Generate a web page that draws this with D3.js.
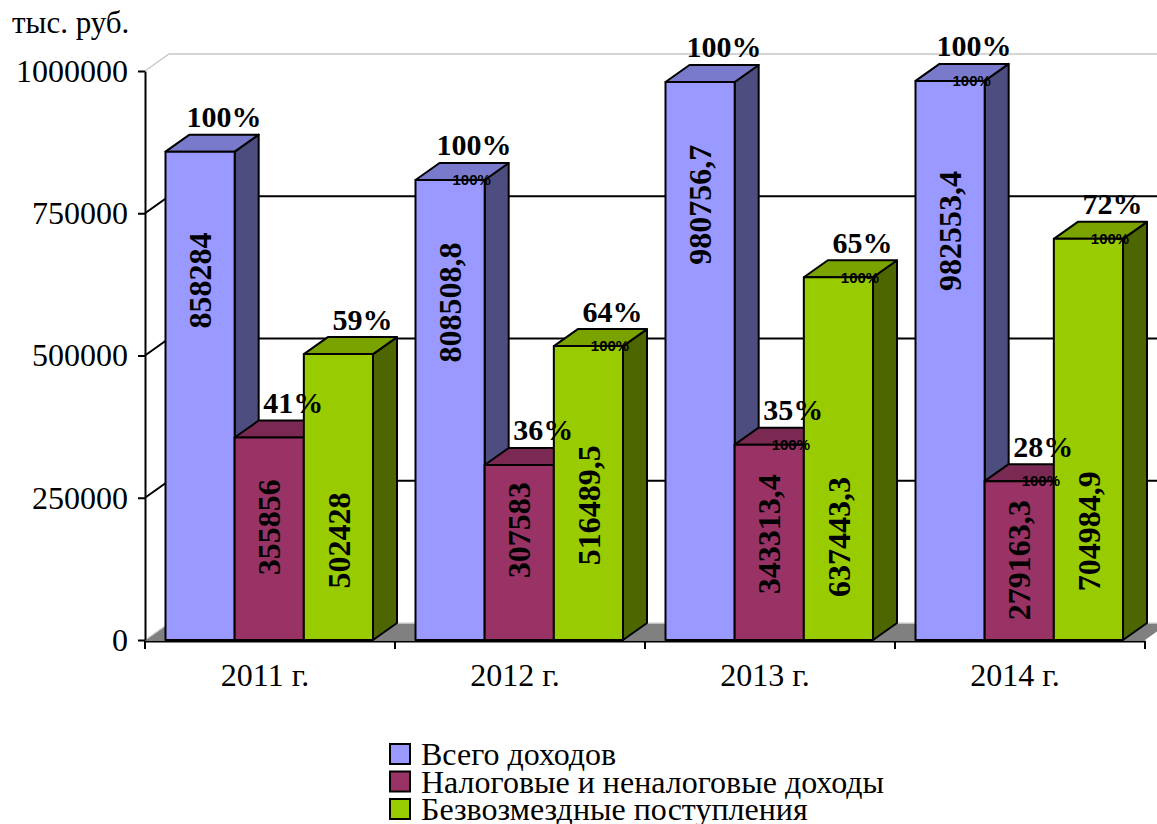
<!doctype html>
<html>
<head>
  <meta charset="utf8"/>
  <style>
    body { margin: 0; background: #fff; }
    text { font-family: "Liberation Serif", "Times New Roman", Tinos, Times, "DejaVu Serif", serif; fill: #000; }
  </style>
</head>
<body>
  <svg width="1157" height="824"></svg>
  <script src="https://d3js.org/d3.v7.min.js"></script>
  <script>
    // data
    var years = ['2011 г.', '2012 г.', '2013 г.', '2014 г.'];
    var seriesNames = ['Всего доходов', 'Налоговые и неналоговые доходы', 'Безвозмездные поступления'];
    var totalIncome = [858284, 808508.8, 980756.7, 982553.4];
    var taxIncome = [355856, 307583, 343313.4, 279163.3];
    var grants = [502428, 516489.5, 637443.3, 704984.9];
    var totalPct = ['100%', '100%', '100%', '100%'];
    var taxPct = ['41%', '36%', '35%', '28%'];
    var grantsPct = ['59%', '64%', '65%', '72%'];
    // stray small "100%" labels present on some bars
    var totalTag = [false, true, false, true];
    var taxTag = [false, false, true, true];
    var grantsTag = [false, true, true, true];
    // where the rotated value labels sit (in axis units)
    var totalLabelAt = [632000, 593000, 765000, 719000];
    var taxLabelAt = [198000, 193000, 186000, 140000];
    var grantsLabelAt = [175000, 237000, 181000, 191000];
    var yTicks = [0, 250000, 500000, 750000, 1000000];

    var SERIF = '"Liberation Serif", "Times New Roman", Tinos, Times, "DejaVu Serif", serif';
    var colors = ['#9999FF', '#993366', '#99CC00'];
    var tops = ['#7a7acc', '#7a2952', '#7aa300'];
    var sides = ['#4d4d80', '#4d1a33', '#4d6600'];

    var series = [
      {values: totalIncome, pct: totalPct, tag: totalTag, at: totalLabelAt},
      {values: taxIncome, pct: taxPct, tag: taxTag, at: taxLabelAt},
      {values: grants, pct: grantsPct, tag: grantsTag, at: grantsLabelAt}
    ];

    var svg = d3.select('svg');
    var DX = 24, DY = -17;

    var y = d3.scaleLinear().domain([0, 1000000]).range([640, 71]);
    var x0 = d3.scaleBand().domain(years).range([145, 1145]);
    var x1 = d3.scaleBand().domain([0, 1, 2]).range([20.5, 228]);

    var fmt = function(v) { return String(v).replace('.', ','); };

    // floor
    svg.append('path')
       .attr('d', 'M145,640 L1145,640 L' + (1145 + DX) + ',' + (640 + DY) +
                  ' L' + (145 + DX) + ',' + (640 + DY) + 'Z')
       .attr('fill', '#808080');
    svg.append('line')
       .attr('x1', 145).attr('y1', 640).attr('x2', 145 + DX).attr('y2', 640 + DY)
       .attr('stroke', '#d8d8d8').attr('stroke-width', 1.5);
    svg.append('line')
       .attr('x1', 145 + DX).attr('y1', 640 + DY).attr('x2', 1157).attr('y2', 640 + DY)
       .attr('stroke', '#d8d8d8').attr('stroke-width', 1.5);

    // gridlines on left and back walls
    var grid = svg.append('g');
    yTicks.filter(function(t) { return t > 0; }).forEach(function(t) {
      var c = t === 1000000 ? '#c8c8c8' : '#000';
      var sw = t === 1000000 ? 1.5 : 2;
      grid.append('path')
          .attr('d', 'M145,' + y(t) + ' L' + (145 + DX) + ',' + (y(t) + DY) +
                     ' L1157,' + (y(t) + DY))
          .attr('fill', 'none').attr('stroke', c).attr('stroke-width', sw);
    });

    // y axis
    var yAxis = svg.append('g')
       .attr('transform', 'translate(145,0)')
       .call(d3.axisLeft(y).tickValues(yTicks).tickFormat(d3.format('d'))
               .tickSize(7).tickSizeOuter(0).tickPadding(10));
    yAxis.attr('font-family', null).attr('font-size', null);
    yAxis.selectAll('path, line').attr('stroke', '#000').attr('stroke-width', 2);
    yAxis.selectAll('text').style('font-size', '32px').style('font-family', SERIF);

    // x axis
    var xAxis = svg.append('g')
       .attr('transform', 'translate(0,641)')
       .call(d3.axisBottom(x0).tickSize(0).tickPadding(22).tickSizeOuter(0));
    xAxis.attr('font-family', null).attr('font-size', null);
    xAxis.select('.domain').attr('stroke', '#000').attr('stroke-width', 2);
    xAxis.selectAll('text').style('font-size', '32px').style('font-family', SERIF)
         .attr('dx', -5);
    var bounds = years.map(function(d) { return x0(d); }).concat([x0.range()[1]]);
    svg.append('g').selectAll('line').data(bounds).join('line')
       .attr('x1', function(d) { return d; }).attr('x2', function(d) { return d; })
       .attr('y1', 641).attr('y2', 649)
       .attr('stroke', '#000').attr('stroke-width', 2);

    // bars, left to right
    var bars = svg.append('g')
       .attr('stroke', '#000').attr('stroke-width', 2).attr('stroke-linejoin', 'round');
    years.forEach(function(yr, i) {
      series.forEach(function(s, k) {
        var bx = x0(yr) + x1(k), w = x1.bandwidth();
        var top = y(s.values[i]), bottom = y(0);
        bars.append('path')
            .attr('d', 'M' + (bx + w) + ',' + top + ' L' + (bx + w + DX) + ',' + (top + DY) +
                       ' L' + (bx + w + DX) + ',' + (bottom + DY) + ' L' + (bx + w) + ',' + bottom + 'Z')
            .attr('fill', sides[k]);
        bars.append('path')
            .attr('d', 'M' + bx + ',' + top + ' L' + (bx + w) + ',' + top +
                       ' L' + (bx + w + DX) + ',' + (top + DY) + ' L' + (bx + DX) + ',' + (top + DY) + 'Z')
            .attr('fill', tops[k]);
        bars.append('rect')
            .attr('x', bx).attr('y', top).attr('width', w).attr('height', bottom - top)
            .attr('fill', colors[k]);
      });
    });

    // labels
    var labels = svg.append('g');
    years.forEach(function(yr, i) {
      series.forEach(function(s, k) {
        var bx = x0(yr) + x1(k), w = x1.bandwidth();
        var top = y(s.values[i]);
        var cx = bx + w / 2, cy = y(s.at[i]);
        labels.append('text')
              .attr('transform', 'translate(' + cx + ',' + cy + ') rotate(-90)')
              .attr('text-anchor', 'middle').attr('dy', '0.35em')
              .style('font-family', SERIF)
              .style('font-size', '32px').style('font-weight', 'bold')
              .text(fmt(s.values[i]));
        labels.append('text')
              .attr('x', cx + 24).attr('y', top - 35).attr('dy', '0.35em')
              .attr('text-anchor', 'middle')
              .style('font-family', SERIF)
              .style('font-size', '30px').style('font-weight', 'bold')
              .text(s.pct[i]);
        if (s.tag[i]) {
          labels.append('text')
                .attr('x', bx + w - 13).attr('y', top).attr('dy', '0.35em')
                .attr('text-anchor', 'middle')
                .style('font-family', '"Liberation Sans", Arial, sans-serif')
                .style('font-size', '15px').style('font-weight', 'bold')
                .text('100%');
        }
      });
    });

    // unit label
    svg.append('text').attr('x', 12).attr('y', 33)
       .style('font-family', SERIF)
       .style('font-size', '31px').text('тыс. руб.');

    // legend
    var legend = svg.append('g').attr('transform', 'translate(390,744)');
    var item = legend.selectAll('g').data(seriesNames).join('g')
       .attr('transform', function(d, i) { return 'translate(0,' + (i * 27.5) + ')'; });
    item.append('rect')
        .attr('x', 0).attr('y', 0).attr('width', 20).attr('height', 20)
        .attr('fill', function(d, i) { return colors[i]; })
        .attr('stroke', '#000').attr('stroke-width', 2);
    item.append('text')
        .attr('x', 31).attr('y', 21)
        .style('font-family', SERIF)
        .style('font-size', '32px')
        .text(function(d) { return d; });
  </script>
</body>
</html>
